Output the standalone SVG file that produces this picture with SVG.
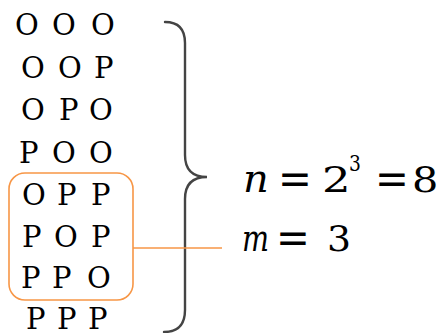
<svg xmlns="http://www.w3.org/2000/svg" width="437" height="333" viewBox="0 0 437 333">
<style>
text{font-family:"DejaVu Serif","Liberation Serif","Times New Roman",serif;fill:#000}
.t{font-size:29px}
.i{font-style:italic}
.or{fill:none;stroke:#F79646;stroke-width:1.6}
.br{fill:none;stroke:#444;stroke-width:2.4;stroke-linecap:round}
</style>
<rect width="437" height="333" fill="#fff"/>
<g id="rows">
<text class="t" x="15 37 52 75 91" y="35">O O O</text>
<text class="t" x="21 43 58 80 94" y="78">O O P</text>
<text class="t" x="21 43 59 78 89" y="120">O P O</text>
<text class="t" x="19 40 52 78 89" y="163">P O O</text>
<text class="t" x="22 43 57 77 91" y="205">O P P</text>
<text class="t" x="22 42 54 77 91" y="247">P O P</text>
<text class="t" x="21 40 52 72 87" y="288">P P O</text>
<text class="t" x="26 45 57 77 88" y="329">P P P</text>
</g>
<g id="box">
<rect class="or" x="9" y="173" width="124" height="127" rx="16" ry="16"/>
</g>
<g id="brace">
<path class="br" d="M165,22 Q185,22 185,43 L185,155 Q185,177 207,177 Q185,177 185,199 L185,310 Q185,332 164,332"/>
</g>
<g id="connectors">
<line class="or" x1="133" y1="248" x2="222" y2="248"/>
</g>
<g id="formula-n">
<text class="i" font-size="40" transform="translate(243,192)">n</text>
<text font-size="44" transform="translate(278,194) scale(0.92,1)">=</text>
<text font-size="36" transform="translate(322,192) scale(1.25,1)">2</text>
<text font-size="22" transform="translate(349,171) scale(0.85,1)">3</text>
<text font-size="44" transform="translate(375,194) scale(0.92,1)">=</text>
<text font-size="36" transform="translate(412,192) scale(1.15,1)">8</text>
</g>
<g id="formula-m">
<text class="i" font-size="38" transform="translate(242,251) scale(0.75,1)">m</text>
<text font-size="44" transform="translate(276,253) scale(0.92,1)">=</text>
<text font-size="36" transform="translate(327,251) scale(1.05,1)">3</text>
</g>
</svg>
